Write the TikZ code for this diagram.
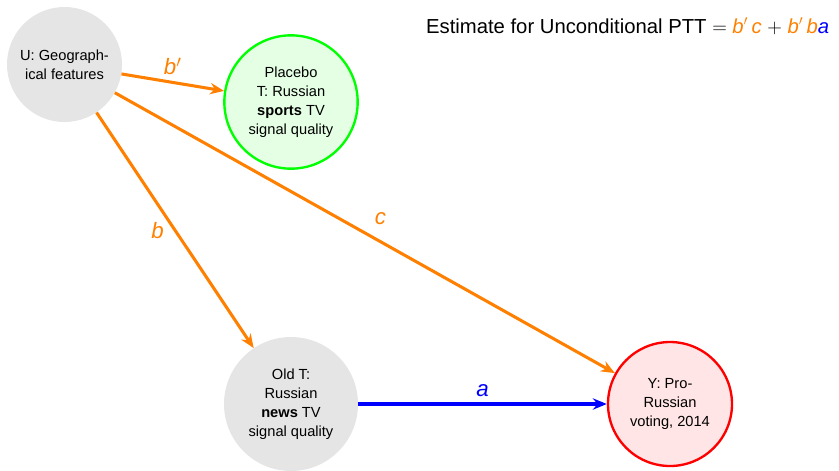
\documentclass[tikz,border=0pt]{standalone}
\usepackage{fontspec}
\setmainfont{Liberation Sans}
\usetikzlibrary{arrows.meta}

\begin{document}
\begin{tikzpicture}[
        var/.style={circle, fill=gray!20, minimum size=3.45cm, inner sep=0pt, align=center, font=\fontsize{12.5}{16.2}\selectfont},
        placebo/.style={var, draw=green, fill=green!10, line width=2pt, minimum size=4.0cm},
        outcome/.style={var, draw=red, fill=red!10, line width=2pt, minimum size=3.72cm},
        treat/.style={var, minimum size=4.02cm},
        path/.style={line width=2.6pt, -{Stealth[length=4.2mm, width=3.4mm, inset=1.4mm]}},
        coef/.style={font=\fontsize{19}{22}\selectfont\itshape}
    ]
        \useasboundingbox (0,0) rectangle (25.17,-14.1);

        % U
        \node[var] (u) at (1.935,-1.935) {U: Geograph-\\ical features};

        % Placebo
        \node[placebo] (placebo) at (8.73,-3.06) {Placebo\\T: Russian\\\textbf{sports} TV\\signal quality};

        % Old T
        \node[treat] (oldt) at (8.73,-12.12) {Old T:\\Russian\\\textbf{news} TV\\signal quality};

        % Y
        \node[outcome] (y) at (20.1,-12.12) {Y: Pro-\\Russian\\voting, 2014};

        % Connections
        \draw[path, orange] (u) -- (placebo) node[coef, midway, above, yshift=2pt] {b$'$};
        \draw[path, orange] (u) -- (oldt) node[coef, midway, left, xshift=-5pt] {b};
        \draw[path, orange] (u) -- (y) node[coef, midway, above right, xshift=4pt, yshift=2pt] {c};
        \draw[path, blue] (oldt) -- (y) node[coef, midway, above, yshift=2pt] {a};

        % Label
        \node[anchor=base west, font=\fontsize{17.3}{20}\selectfont] (title) at (12.66,-0.99) {Estimate for Unconditional PTT $=$ \textcolor{orange}{\textit{b}$'$\,\textit{c}} $+$ \textcolor{orange}{\textit{b}$'$\,\textit{b}}\textcolor{blue}{\textit{a}}};
    \end{tikzpicture}
\end{document}
